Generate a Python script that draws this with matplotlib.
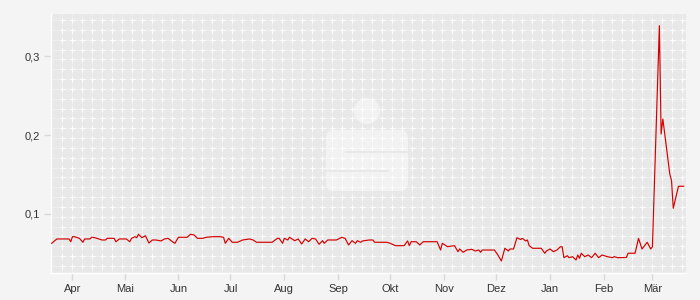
import numpy as np
import pandas as pd
import matplotlib
matplotlib.use("Agg")
import matplotlib.pyplot as plt
from matplotlib.patches import Ellipse, FancyBboxPatch, Rectangle

plt.rcParams['font.family'] = ['Liberation Sans', 'DejaVu Sans']

# price series
dates = [
    '2024-03-20', '2024-03-23', '2024-03-30', '2024-03-31', '2024-04-01', '2024-04-02',
    '2024-04-05', '2024-04-07', '2024-04-08', '2024-04-11', '2024-04-12', '2024-04-13',
    '2024-04-15', '2024-04-18', '2024-04-20', '2024-04-21', '2024-04-25', '2024-04-26',
    '2024-04-28', '2024-05-02', '2024-05-04', '2024-05-05', '2024-05-07', '2024-05-08',
    '2024-05-09', '2024-05-11', '2024-05-13', '2024-05-15', '2024-05-17', '2024-05-19',
    '2024-05-22', '2024-05-24', '2024-05-26', '2024-05-29', '2024-05-30', '2024-06-01',
    '2024-06-06', '2024-06-08', '2024-06-10', '2024-06-12', '2024-06-15', '2024-06-17',
    '2024-06-21', '2024-06-25', '2024-06-27', '2024-06-28', '2024-06-30', '2024-07-02',
    '2024-07-05', '2024-07-08', '2024-07-12', '2024-07-14', '2024-07-16', '2024-07-25',
    '2024-07-28', '2024-07-29', '2024-07-31', '2024-08-01', '2024-08-03', '2024-08-04',
    '2024-08-07', '2024-08-09', '2024-08-11', '2024-08-13', '2024-08-15', '2024-08-17',
    '2024-08-19', '2024-08-21', '2024-08-23', '2024-08-24', '2024-08-26', '2024-08-31',
    '2024-09-03', '2024-09-05', '2024-09-07', '2024-09-09', '2024-09-11', '2024-09-12',
    '2024-09-14', '2024-09-15', '2024-09-19', '2024-09-21', '2024-09-22', '2024-09-29',
    '2024-10-01', '2024-10-04', '2024-10-09', '2024-10-11', '2024-10-12', '2024-10-13',
    '2024-10-16', '2024-10-18', '2024-10-20', '2024-10-28', '2024-10-30', '2024-10-31',
    '2024-11-03', '2024-11-07', '2024-11-09', '2024-11-10', '2024-11-12', '2024-11-14',
    '2024-11-17', '2024-11-19', '2024-11-21', '2024-11-22', '2024-11-23', '2024-11-30',
    '2024-12-02', '2024-12-04', '2024-12-06', '2024-12-08', '2024-12-09', '2024-12-11',
    '2024-12-13', '2024-12-15', '2024-12-16', '2024-12-18', '2024-12-19', '2024-12-20',
    '2024-12-22', '2024-12-27', '2024-12-29', '2024-12-30', '2025-01-01', '2025-01-03',
    '2025-01-05', '2025-01-07', '2025-01-08', '2025-01-09', '2025-01-11', '2025-01-12',
    '2025-01-14', '2025-01-16', '2025-01-17', '2025-01-18', '2025-01-19', '2025-01-21',
    '2025-01-23', '2025-01-25', '2025-01-27', '2025-01-29', '2025-01-31', '2025-02-03',
    '2025-02-06', '2025-02-07', '2025-02-09', '2025-02-14', '2025-02-15', '2025-02-19',
    '2025-02-21', '2025-02-23', '2025-02-26', '2025-02-28', '2025-03-01', '2025-03-05',
    '2025-03-06', '2025-03-07', '2025-03-11', '2025-03-12', '2025-03-13', '2025-03-16',
    '2025-03-19',
]
values = [
    0.0629, 0.0684, 0.0684, 0.0649, 0.0713, 0.0713,
    0.0692, 0.0642, 0.0684, 0.0684, 0.0705, 0.0705,
    0.0692, 0.0671, 0.0671, 0.0692, 0.0692, 0.0649,
    0.0684, 0.0684, 0.0649, 0.0692, 0.0713, 0.0700,
    0.0743, 0.0700, 0.0725, 0.0633, 0.0671, 0.0671,
    0.0659, 0.0684, 0.0692, 0.0642, 0.0629, 0.0705,
    0.0705, 0.0743, 0.0734, 0.0692, 0.0692, 0.0705,
    0.0713, 0.0713, 0.0705, 0.0629, 0.0692, 0.0642,
    0.0642, 0.0671, 0.0684, 0.0671, 0.0642, 0.0642,
    0.0692, 0.0692, 0.0629, 0.0692, 0.0671, 0.0705,
    0.0662, 0.0684, 0.0620, 0.0684, 0.0649, 0.0692,
    0.0684, 0.0617, 0.0662, 0.0629, 0.0671, 0.0671,
    0.0705, 0.0692, 0.0608, 0.0662, 0.0629, 0.0662,
    0.0642, 0.0659, 0.0671, 0.0671, 0.0642, 0.0642,
    0.0629, 0.0599, 0.0599, 0.0659, 0.0599, 0.0649,
    0.0649, 0.0608, 0.0649, 0.0649, 0.0544, 0.0629,
    0.0586, 0.0599, 0.0523, 0.0557, 0.0515, 0.0544,
    0.0553, 0.0532, 0.0544, 0.0515, 0.0544, 0.0544,
    0.0481, 0.0405, 0.0566, 0.0532, 0.0557, 0.0557,
    0.0700, 0.0677, 0.0692, 0.0659, 0.0671, 0.0599,
    0.0566, 0.0566, 0.0503, 0.0532, 0.0557, 0.0523,
    0.0544, 0.0586, 0.0586, 0.0447, 0.0472, 0.0447,
    0.0460, 0.0418, 0.0481, 0.0439, 0.0503, 0.0460,
    0.0481, 0.0447, 0.0503, 0.0447, 0.0481, 0.0460,
    0.0447, 0.0460, 0.0447, 0.0450, 0.0503, 0.0503,
    0.0692, 0.0557, 0.0642, 0.0557, 0.0586, 0.3384,
    0.2013, 0.2203, 0.1506, 0.1422, 0.1072, 0.1351,
    0.1351,
]

month_labels = ['Apr', 'Mai', 'Jun', 'Jul', 'Aug', 'Sep', 'Okt', 'Nov', 'Dez', 'Jan', 'Feb', 'Mär']
y_ticks = [0.1, 0.2, 0.3]
y_labels = ['0,1', '0,2', '0,3']

x = pd.to_datetime(dates)

fig = plt.figure(figsize=(7, 3), dpi=100, facecolor='#f4f4f4')
ax = fig.add_axes([51 / 700, 27 / 300, 635 / 700, 259 / 300])
ax.set_facecolor('#e8e8e8')

# background grid: faint lines plus small white crosses, snapped to pixel centres
px = np.arange(61, 682, 10) + 0.5
py = np.round(265 - 9.84 * np.arange(26)) + 0.5
gx = (px - 51) / 635
gy = (273 - py) / 259
for v in gx:
    ax.plot([v, v], [0, 1], color='white', alpha=0.28, lw=0.72, transform=ax.transAxes, zorder=1)
for v in gy:
    ax.plot([0, 1], [v, v], color='white', alpha=0.28, lw=0.72, transform=ax.transAxes, zorder=1)
GX, GY = np.meshgrid(gx, gy)
ax.plot(GX.ravel(), GY.ravel(), '+', color='white', ms=3.6, mew=0.72, transform=ax.transAxes, zorder=1.2)

# watermark logo (inches in figure space)
tr = fig.dpi_scale_trans
ax.add_patch(Ellipse((3.67, 1.89), 0.26, 0.26, transform=tr, color='white', alpha=0.45, lw=0, zorder=1.5))
ax.add_patch(FancyBboxPatch((3.26, 1.09), 0.82, 0.61, boxstyle='round,pad=0,rounding_size=0.08',
                            transform=tr, color='white', alpha=0.45, lw=0, zorder=1.5))
ax.add_patch(Rectangle((3.45, 1.47), 0.63, 0.02, transform=tr, color='#e8e8e8', lw=0, zorder=1.6))
ax.add_patch(Rectangle((3.26, 1.28), 0.63, 0.02, transform=tr, color='#e8e8e8', lw=0, zorder=1.6))

ax.plot(x, values, color='#d40000', lw=0.85, zorder=3)

ax.set_xlim(pd.Timestamp('2024-03-19 15:00'), pd.Timestamp('2025-03-20 08:00'))
ax.set_ylim(0.0253, 0.3532)

ax.set_xticks(pd.date_range('2024-04-01', periods=12, freq='MS'))
ax.set_xticklabels(month_labels)
ax.set_yticks(y_ticks)
ax.set_yticklabels(y_labels)
ax.tick_params(axis='both', labelsize=8, labelcolor='#333333', color='#d8d8d8', length=5, width=1, pad=3)

for s in ['top', 'right']:
    ax.spines[s].set_visible(False)
for s in ['left', 'bottom']:
    ax.spines[s].set_color('white')
    ax.spines[s].set_linewidth(1)

fig.savefig('out.png', dpi=100, facecolor=fig.get_facecolor())
